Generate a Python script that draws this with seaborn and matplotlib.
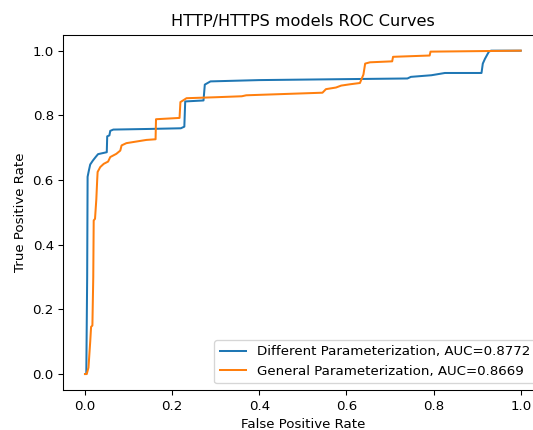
import matplotlib
matplotlib.use("Agg")
import matplotlib.pyplot as plt
import seaborn as sns
import pandas as pd

title = "HTTP/HTTPS models ROC Curves"
xlabel = "False Positive Rate"
ylabel = "True Positive Rate"

diff_label = "Different Parameterization, AUC=0.8772"
diff_fpr = [0.0, 0.003, 0.005, 0.006, 0.009, 0.012, 0.018, 0.025, 0.030, 0.050, 0.051,
            0.056, 0.058, 0.065, 0.15, 0.22, 0.228, 0.230, 0.272, 0.275, 0.288, 0.40,
            0.60, 0.740, 0.748, 0.795, 0.826, 0.910, 0.913, 0.918, 0.927, 0.932, 1.0]
diff_tpr = [0.0, 0.0, 0.30, 0.610, 0.630, 0.648, 0.660, 0.672, 0.680, 0.686, 0.735,
            0.738, 0.752, 0.756, 0.758, 0.760, 0.765, 0.843, 0.846, 0.895, 0.905, 0.909,
            0.912, 0.914, 0.919, 0.924, 0.931, 0.931, 0.960, 0.975, 0.997, 1.0, 1.0]

gen_label = "General Parameterization, AUC=0.8669"
gen_fpr = [0.0, 0.004, 0.008, 0.012, 0.014, 0.017, 0.019, 0.020, 0.023, 0.026, 0.028,
           0.029, 0.035, 0.043, 0.053, 0.058, 0.072, 0.081, 0.084, 0.095, 0.118, 0.141,
           0.162, 0.163, 0.217, 0.219, 0.225, 0.233, 0.30, 0.36, 0.37, 0.545, 0.553,
           0.576, 0.588, 0.608, 0.631, 0.639, 0.643, 0.654, 0.705, 0.707, 0.791, 0.793, 1.0]
gen_tpr = [0.0, 0.0, 0.020, 0.100, 0.146, 0.150, 0.300, 0.475, 0.480, 0.540, 0.600,
           0.625, 0.640, 0.650, 0.657, 0.671, 0.681, 0.691, 0.707, 0.714, 0.719, 0.724,
           0.726, 0.788, 0.792, 0.841, 0.846, 0.853, 0.856, 0.859, 0.862, 0.870, 0.881,
           0.886, 0.892, 0.896, 0.900, 0.926, 0.960, 0.964, 0.967, 0.981, 0.985, 0.997, 1.0]

df_diff = pd.DataFrame({"fpr": diff_fpr, "tpr": diff_tpr})
df_gen = pd.DataFrame({"fpr": gen_fpr, "tpr": gen_tpr})

DPI = 96.5
fig = plt.figure(figsize=(533 / DPI, 430 / DPI), dpi=DPI)
ax = fig.add_axes([63.2 / 533, (430 - 390.2) / 430, (542.5 - 63.2) / 533, (390.2 - 34.5) / 430])

sns.lineplot(data=df_diff, x="fpr", y="tpr", estimator=None, sort=False,
             color="C0", linewidth=1.5, label=diff_label, ax=ax)
sns.lineplot(data=df_gen, x="fpr", y="tpr", estimator=None, sort=False,
             color="C1", linewidth=1.5, label=gen_label, ax=ax)

ax.set_xlim(-0.05, 1.05)
ax.set_ylim(-0.05, 1.05)
ax.set_xticks([0.0, 0.2, 0.4, 0.6, 0.8, 1.0])
ax.set_yticks([0.0, 0.2, 0.4, 0.6, 0.8, 1.0])
ax.set_title(title)
ax.set_xlabel(xlabel)
ax.set_ylabel(ylabel)
ax.spines["right"].set_visible(False)
ax.legend(loc="lower right")

fig.savefig("out.png", dpi=DPI)
